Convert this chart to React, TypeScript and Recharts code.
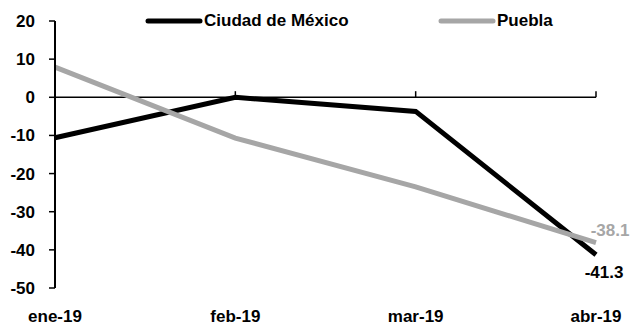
import React from 'react';
import { LineChart, Line, XAxis, YAxis, ReferenceLine, Legend, LabelList } from 'recharts';

const months = ['ene-19', 'feb-19', 'mar-19', 'abr-19'];
const cdmx = [-10.6, 0, -3.7, -41.3];
const puebla = [7.9, -10.7, -23.5, -38.1];
const yTicks = [20, 10, 0, -10, -20, -30, -40, -50];

const BLACK = '#000000';
const GRAY = '#A6A6A6';
const FONT = '"Liberation Sans", Arial, sans-serif';

const data = months.map((m, i) => ({ month: m, cdmx: cdmx[i], puebla: puebla[i] }));
const last = months.length - 1;

const legendItems = [
  { name: 'Ciudad de México', color: BLACK, left: 0 },
  { name: 'Puebla', color: GRAY, left: 293 },
];

function ChartLegend() {
  return (
    <div style={{ position: 'relative', height: 20, width: 420 }}>
      {legendItems.map((it) => (
        <div
          key={it.name}
          style={{ position: 'absolute', left: it.left, top: 0, height: 20, display: 'flex', alignItems: 'center' }}
        >
          <svg width={58} height={10}>
            <line x1={3} y1={5} x2={55} y2={5} stroke={it.color} strokeWidth={5} strokeLinecap="round" />
          </svg>
          <span style={{ fontFamily: FONT, fontWeight: 700, fontSize: 17, color: '#000', marginLeft: 1, whiteSpace: 'nowrap' }}>
            {it.name}
          </span>
        </div>
      ))}
    </div>
  );
}

const endLabel = (color: string, dx: number, dy: number) => (props: any) => {
  const { x, y, index, value } = props;
  if (index !== last) return null;
  return (
    <text x={x + dx} y={y + dy} fill={color} textAnchor="middle" fontFamily={FONT} fontWeight={700} fontSize={17}>
      {Number(value).toFixed(1)}
    </text>
  );
};

export default function App() {
  return (
    <div style={{ position: 'absolute', left: 0, top: 0 }}>
      <LineChart width={631} height={325} data={data} margin={{ top: 21, right: 35, left: 0, bottom: 0 }}>
        <XAxis
          dataKey="month"
          interval={0}
          axisLine={false}
          tickLine={false}
          tickSize={0}
          tickMargin={22}
          height={37}
          padding={{ left: 0, right: 0 }}
          tick={{ fill: '#000', fontFamily: FONT, fontWeight: 700, fontSize: 17 }}
        />
        <YAxis
          domain={[-50, 20]}
          ticks={yTicks}
          width={55}
          axisLine={{ stroke: BLACK, strokeWidth: 2 }}
          tickLine={{ stroke: BLACK, strokeWidth: 1.5 }}
          tickSize={6}
          tickMargin={14}
          tick={{ fill: '#000', fontFamily: FONT, fontWeight: 700, fontSize: 17 }}
        />
        <ReferenceLine y={0} stroke={BLACK} strokeWidth={1.5} />
        {months.slice(1).map((m) => (
          <ReferenceLine
            key={m}
            segment={[{ x: m, y: 0 }, { x: m, y: 1.6 }]}
            stroke={BLACK}
            strokeWidth={1.5}
          />
        ))}
        <Legend
          layout="horizontal"
          verticalAlign="middle"
          align="center"
          wrapperStyle={{ top: 11, left: 145, width: 420 }}
          content={() => <ChartLegend />}
        />
        <Line
          type="linear"
          dataKey="cdmx"
          name="Ciudad de México"
          stroke={BLACK}
          strokeWidth={5}
          dot={false}
          isAnimationActive={false}
        >
          <LabelList dataKey="cdmx" content={endLabel(BLACK, 8, 23)} />
        </Line>
        <Line
          type="linear"
          dataKey="puebla"
          name="Puebla"
          stroke={GRAY}
          strokeWidth={5}
          dot={false}
          isAnimationActive={false}
        >
          <LabelList dataKey="puebla" content={endLabel(GRAY, 14, -7)} />
        </Line>
      </LineChart>
    </div>
  );
}
